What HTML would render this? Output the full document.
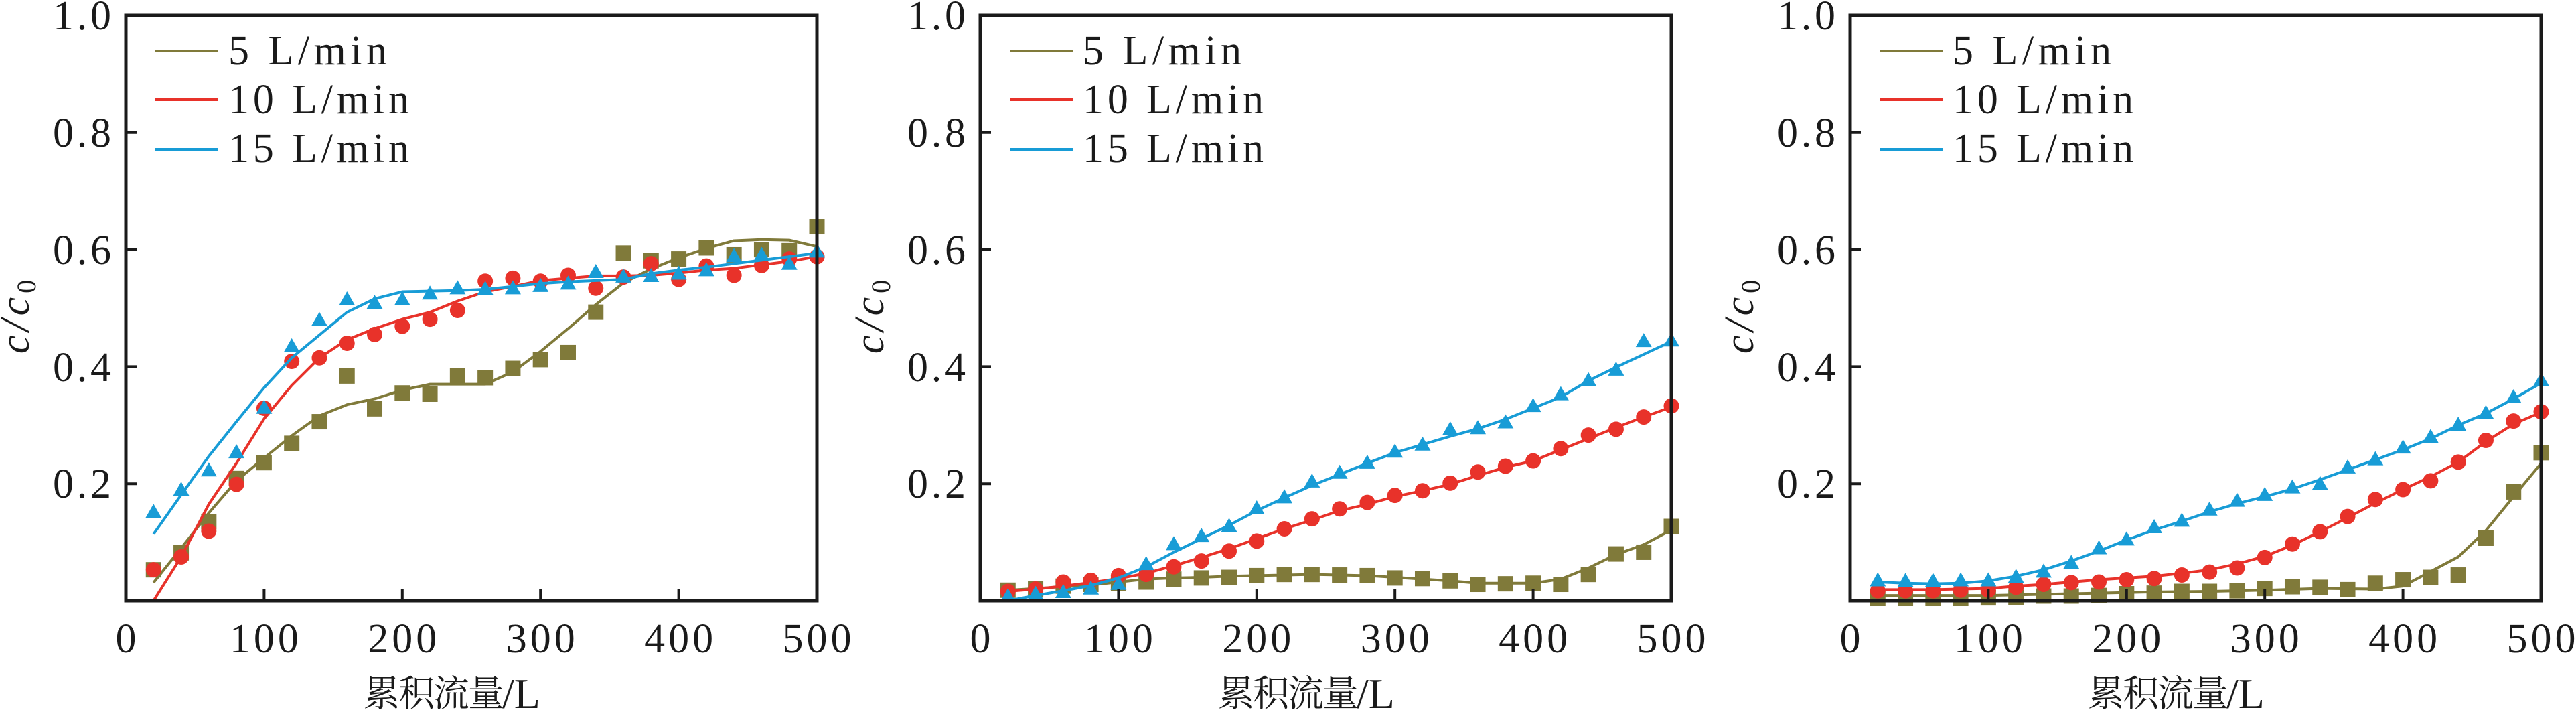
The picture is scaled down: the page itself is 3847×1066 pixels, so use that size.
<!DOCTYPE html>
<html>
<head>
<meta charset="utf-8">
<style>
html,body{margin:0;padding:0;background:#fff;}
svg{display:block;}
text{font-family:"Liberation Serif","Noto Serif CJK SC",serif;fill:#1a1a1a;}
</style>
</head>
<body>
<svg width="3847" height="1066" viewBox="0 0 3847 1066" xmlns="http://www.w3.org/2000/svg">
<defs>
<rect id="sq" x="-5.572" y="-0.013158" width="11.143" height="0.026316"/>
<ellipse id="ci" rx="5.572" ry="0.013158"/>
<path id="tr" d="M-5.814,-0.011442L5.814,-0.011442L0,0.012586Z"/>
</defs>
<rect x="0" y="0" width="3847" height="1066" fill="#fff"/>

<!-- ============ PANEL 1 ============ -->
<g transform="translate(188,897) scale(2.064,-874)">
<g fill="#807a3a">
<use href="#sq" x="20" y=".053"/><use href="#sq" x="40" y=".082"/><use href="#sq" x="60" y=".135"/><use href="#sq" x="80" y=".209"/><use href="#sq" x="100" y=".236"/><use href="#sq" x="120" y=".269"/><use href="#sq" x="140" y=".306"/><use href="#sq" x="160" y=".384"/><use href="#sq" x="180" y=".328"/><use href="#sq" x="200" y=".355"/><use href="#sq" x="220" y=".353"/><use href="#sq" x="240" y=".384"/><use href="#sq" x="260" y=".381"/><use href="#sq" x="280" y=".397"/><use href="#sq" x="300" y=".412"/><use href="#sq" x="320" y=".424"/><use href="#sq" x="340" y=".493"/><use href="#sq" x="360" y=".594"/><use href="#sq" x="380" y=".581"/><use href="#sq" x="400" y=".584"/><use href="#sq" x="420" y=".603"/><use href="#sq" x="440" y=".591"/><use href="#sq" x="460" y=".600"/><use href="#sq" x="480" y=".598"/><use href="#sq" x="500" y=".639"/>
</g>
<polyline fill="none" stroke="#807a3a" stroke-width="4" vector-effect="non-scaling-stroke" stroke-linejoin="round" points="20,.031 40,.09 60,.15 80,.205 100,.244 120,.282 140,.316 160,.335 180,.345 200,.36 220,.37 240,.37 260,.37 280,.391 300,.426 320,.465 340,.506 360,.543 380,.567 400,.586 420,.602 440,.615 460,.617 480,.616 500,.605"/>
<g fill="#e8322a">
<use href="#ci" x="20" y=".053"/><use href="#ci" x="40" y=".075"/><use href="#ci" x="60" y=".119"/><use href="#ci" x="80" y=".199"/><use href="#ci" x="100" y=".329"/><use href="#ci" x="120" y=".409"/><use href="#ci" x="140" y=".415"/><use href="#ci" x="160" y=".440"/><use href="#ci" x="180" y=".455"/><use href="#ci" x="200" y=".469"/><use href="#ci" x="220" y=".481"/><use href="#ci" x="240" y=".496"/><use href="#ci" x="260" y=".546"/><use href="#ci" x="280" y=".551"/><use href="#ci" x="300" y=".546"/><use href="#ci" x="320" y=".556"/><use href="#ci" x="340" y=".534"/><use href="#ci" x="360" y=".553"/><use href="#ci" x="380" y=".576"/><use href="#ci" x="400" y=".549"/><use href="#ci" x="420" y=".572"/><use href="#ci" x="440" y=".556"/><use href="#ci" x="460" y=".573"/><use href="#ci" x="480" y=".584"/><use href="#ci" x="500" y=".588"/>
</g>
<polyline fill="none" stroke="#e8322a" stroke-width="4" vector-effect="non-scaling-stroke" stroke-linejoin="round" points="20,0 40,.075 60,.165 80,.235 100,.311 120,.368 140,.415 160,.446 180,.465 200,.481 220,.493 240,.512 260,.528 280,.537 300,.547 320,.551 340,.555 360,.555 380,.556 400,.56 420,.565 440,.568 460,.574 480,.58 500,.588"/>
<g fill="#189cd6">
<use href="#tr" x="20" y=".153"/><use href="#tr" x="40" y=".191"/><use href="#tr" x="60" y=".224"/><use href="#tr" x="80" y=".255"/><use href="#tr" x="100" y=".331"/><use href="#tr" x="120" y=".436"/><use href="#tr" x="140" y=".481"/><use href="#tr" x="160" y=".516"/><use href="#tr" x="180" y=".510"/><use href="#tr" x="200" y=".516"/><use href="#tr" x="220" y=".526"/><use href="#tr" x="240" y=".535"/><use href="#tr" x="260" y=".534"/><use href="#tr" x="280" y=".535"/><use href="#tr" x="300" y=".539"/><use href="#tr" x="320" y=".543"/><use href="#tr" x="340" y=".563"/><use href="#tr" x="360" y=".555"/><use href="#tr" x="380" y=".556"/><use href="#tr" x="400" y=".560"/><use href="#tr" x="420" y=".566"/><use href="#tr" x="440" y=".590"/><use href="#tr" x="460" y=".592"/><use href="#tr" x="480" y=".577"/><use href="#tr" x="500" y=".598"/>
</g>
<polyline fill="none" stroke="#189cd6" stroke-width="4" vector-effect="non-scaling-stroke" stroke-linejoin="round" points="20,.114 40,.181 60,.247 80,.306 100,.364 120,.415 140,.454 160,.493 180,.516 200,.528 220,.529 240,.53 260,.532 280,.537 300,.542 320,.545 340,.547 360,.549 380,.559 400,.565 420,.57 440,.576 460,.582 480,.588 500,.594"/>
</g>

<!-- ============ PANEL 2 ============ -->
<g transform="translate(1464,897) scale(2.064,-874)">
<g fill="#807a3a">
<use href="#sq" x="20" y=".018"/><use href="#sq" x="40" y=".020"/><use href="#sq" x="60" y=".025"/><use href="#sq" x="80" y=".028"/><use href="#sq" x="100" y=".030"/><use href="#sq" x="120" y=".032"/><use href="#sq" x="140" y=".037"/><use href="#sq" x="160" y=".039"/><use href="#sq" x="180" y=".040"/><use href="#sq" x="200" y=".043"/><use href="#sq" x="220" y=".045"/><use href="#sq" x="240" y=".045"/><use href="#sq" x="260" y=".044"/><use href="#sq" x="280" y=".043"/><use href="#sq" x="300" y=".039"/><use href="#sq" x="320" y=".038"/><use href="#sq" x="340" y=".034"/><use href="#sq" x="360" y=".028"/><use href="#sq" x="380" y=".029"/><use href="#sq" x="400" y=".030"/><use href="#sq" x="420" y=".028"/><use href="#sq" x="440" y=".045"/><use href="#sq" x="460" y=".080"/><use href="#sq" x="480" y=".083"/><use href="#sq" x="500" y=".127"/>
</g>
<polyline fill="none" stroke="#807a3a" stroke-width="4" vector-effect="non-scaling-stroke" stroke-linejoin="round" points="20,.018 40,.021 60,.024 80,.027 100,.032 120,.037 140,.039 160,.040 180,.042 200,.043 220,.044 240,.045 260,.044 280,.043 300,.040 320,.037 340,.034 360,.030 380,.030 400,.030 420,.037 440,.056 460,.079 480,.096 500,.121"/>
<g fill="#e8322a">
<use href="#ci" x="20" y=".016"/><use href="#ci" x="40" y=".020"/><use href="#ci" x="60" y=".032"/><use href="#ci" x="80" y=".035"/><use href="#ci" x="100" y=".043"/><use href="#ci" x="120" y=".045"/><use href="#ci" x="140" y=".058"/><use href="#ci" x="160" y=".068"/><use href="#ci" x="180" y=".085"/><use href="#ci" x="200" y=".102"/><use href="#ci" x="220" y=".123"/><use href="#ci" x="240" y=".140"/><use href="#ci" x="260" y=".157"/><use href="#ci" x="280" y=".168"/><use href="#ci" x="300" y=".180"/><use href="#ci" x="320" y=".188"/><use href="#ci" x="340" y=".201"/><use href="#ci" x="360" y=".220"/><use href="#ci" x="380" y=".230"/><use href="#ci" x="400" y=".239"/><use href="#ci" x="420" y=".260"/><use href="#ci" x="440" y=".283"/><use href="#ci" x="460" y=".293"/><use href="#ci" x="480" y=".314"/><use href="#ci" x="500" y=".333"/>
</g>
<polyline fill="none" stroke="#e8322a" stroke-width="4" vector-effect="non-scaling-stroke" stroke-linejoin="round" points="20,.016 40,.020 60,.025 80,.031 100,.038 120,.047 140,.060 160,.074 180,.089 200,.106 220,.123 240,.138 260,.154 280,.165 300,.178 320,.188 340,.199 360,.214 380,.228 400,.239 420,.258 440,.277 460,.296 480,.314 500,.331"/>
<g fill="#189cd6">
<use href="#tr" x="20" y=".009"/><use href="#tr" x="40" y=".013"/><use href="#tr" x="60" y=".016"/><use href="#tr" x="80" y=".022"/><use href="#tr" x="100" y=".030"/><use href="#tr" x="120" y=".064"/><use href="#tr" x="140" y=".098"/><use href="#tr" x="160" y=".112"/><use href="#tr" x="180" y=".129"/><use href="#tr" x="200" y=".159"/><use href="#tr" x="220" y=".178"/><use href="#tr" x="240" y=".205"/><use href="#tr" x="260" y=".220"/><use href="#tr" x="280" y=".237"/><use href="#tr" x="300" y=".256"/><use href="#tr" x="320" y=".268"/><use href="#tr" x="340" y=".294"/><use href="#tr" x="360" y=".296"/><use href="#tr" x="380" y=".306"/><use href="#tr" x="400" y=".334"/><use href="#tr" x="420" y=".354"/><use href="#tr" x="440" y=".378"/><use href="#tr" x="460" y=".396"/><use href="#tr" x="480" y=".445"/><use href="#tr" x="500" y=".446"/>
</g>
<polyline fill="none" stroke="#189cd6" stroke-width="4" vector-effect="non-scaling-stroke" stroke-linejoin="round" points="20,0 40,.009 60,.017 80,.026 100,.039 120,.058 140,.083 160,.106 180,.129 200,.154 220,.176 240,.197 260,.216 280,.235 300,.253 320,.267 340,.281 360,.294 380,.31 400,.329 420,.348 440,.376 460,.399 480,.421 500,.443"/>
</g>

<!-- ============ PANEL 3 ============ -->
<g transform="translate(2763,897) scale(2.064,-874)">
<g fill="#807a3a">
<use href="#sq" x="20" y=".004"/><use href="#sq" x="40" y=".004"/><use href="#sq" x="60" y=".004"/><use href="#sq" x="80" y=".004"/><use href="#sq" x="100" y=".005"/><use href="#sq" x="120" y=".006"/><use href="#sq" x="140" y=".008"/><use href="#sq" x="160" y=".008"/><use href="#sq" x="180" y=".009"/><use href="#sq" x="200" y=".012"/><use href="#sq" x="220" y=".013"/><use href="#sq" x="240" y=".016"/><use href="#sq" x="260" y=".016"/><use href="#sq" x="280" y=".017"/><use href="#sq" x="300" y=".021"/><use href="#sq" x="320" y=".024"/><use href="#sq" x="340" y=".023"/><use href="#sq" x="360" y=".019"/><use href="#sq" x="380" y=".030"/><use href="#sq" x="400" y=".036"/><use href="#sq" x="420" y=".040"/><use href="#sq" x="440" y=".044"/><use href="#sq" x="460" y=".107"/><use href="#sq" x="480" y=".186"/><use href="#sq" x="500" y=".253"/>
</g>
<polyline fill="none" stroke="#807a3a" stroke-width="4" vector-effect="non-scaling-stroke" stroke-linejoin="round" points="20,.009 60,.009 100,.009 140,.011 180,.013 220,.015 260,.016 300,.018 340,.021 380,.020 400,.025 420,.05 440,.075 460,.12 480,.178 500,.235"/>
<g fill="#e8322a">
<use href="#ci" x="20" y=".017"/><use href="#ci" x="40" y=".017"/><use href="#ci" x="60" y=".017"/><use href="#ci" x="80" y=".018"/><use href="#ci" x="100" y=".018"/><use href="#ci" x="120" y=".023"/><use href="#ci" x="140" y=".028"/><use href="#ci" x="160" y=".031"/><use href="#ci" x="180" y=".032"/><use href="#ci" x="200" y=".036"/><use href="#ci" x="220" y=".038"/><use href="#ci" x="240" y=".044"/><use href="#ci" x="260" y=".049"/><use href="#ci" x="280" y=".056"/><use href="#ci" x="300" y=".074"/><use href="#ci" x="320" y=".097"/><use href="#ci" x="340" y=".118"/><use href="#ci" x="360" y=".144"/><use href="#ci" x="380" y=".173"/><use href="#ci" x="400" y=".190"/><use href="#ci" x="420" y=".205"/><use href="#ci" x="440" y=".237"/><use href="#ci" x="460" y=".274"/><use href="#ci" x="480" y=".307"/><use href="#ci" x="500" y=".323"/>
</g>
<polyline fill="none" stroke="#e8322a" stroke-width="4" vector-effect="non-scaling-stroke" stroke-linejoin="round" points="20,.019 40,.019 60,.019 80,.020 100,.021 120,.025 140,.028 160,.032 180,.036 200,.039 220,.042 240,.047 260,.053 280,.063 300,.076 320,.095 340,.118 360,.142 380,.167 400,.19 420,.212 440,.237 460,.272 480,.302 500,.322"/>
<g fill="#189cd6">
<use href="#tr" x="20" y=".036"/><use href="#tr" x="40" y=".035"/><use href="#tr" x="60" y=".035"/><use href="#tr" x="80" y=".036"/><use href="#tr" x="100" y=".036"/><use href="#tr" x="120" y=".042"/><use href="#tr" x="140" y=".051"/><use href="#tr" x="160" y=".066"/><use href="#tr" x="180" y=".091"/><use href="#tr" x="200" y=".106"/><use href="#tr" x="220" y=".127"/><use href="#tr" x="240" y=".138"/><use href="#tr" x="260" y=".157"/><use href="#tr" x="280" y=".172"/><use href="#tr" x="300" y=".182"/><use href="#tr" x="320" y=".195"/><use href="#tr" x="340" y=".201"/><use href="#tr" x="360" y=".229"/><use href="#tr" x="380" y=".243"/><use href="#tr" x="400" y=".263"/><use href="#tr" x="420" y=".281"/><use href="#tr" x="440" y=".302"/><use href="#tr" x="460" y=".322"/><use href="#tr" x="480" y=".349"/><use href="#tr" x="500" y=".378"/>
</g>
<polyline fill="none" stroke="#189cd6" stroke-width="4" vector-effect="non-scaling-stroke" stroke-linejoin="round" points="20,.032 40,.030 60,.029 80,.030 100,.034 120,.042 140,.053 160,.068 180,.085 200,.104 220,.121 240,.136 260,.152 280,.166 300,.178 320,.191 340,.207 360,.224 380,.241 400,.258 420,.277 440,.300 460,.320 480,.345 500,.372"/>
</g>

<!-- ============ FRAMES, TICKS, LABELS ============ -->
<g fill="none" stroke="#1a1a1a" stroke-width="5">
<rect x="188" y="23" width="1032" height="874"/>
<rect x="1464" y="23" width="1032" height="874"/>
<rect x="2763" y="23" width="1032" height="874"/>
</g>
<g stroke="#1a1a1a" stroke-width="4">
<path d="M394.4 897V879M600.8 897V879M807.2 897V879M1013.6 897V879M188 722.2H204M188 547.4H204M188 372.6H204M188 197.8H204"/>
<path d="M1670.4 897V879M1876.8 897V879M2083.2 897V879M2289.6 897V879M1464 722.2H1480M1464 547.4H1480M1464 372.6H1480M1464 197.8H1480"/>
<path d="M2969.4 897V879M3175.8 897V879M3382.2 897V879M3588.6 897V879M2763 722.2H2779M2763 547.4H2779M2763 372.6H2779M2763 197.8H2779"/>
</g>

<!-- legend lines -->
<g stroke-width="4">
<path d="M232 76H326" stroke="#807a3a"/><path d="M232 149H326" stroke="#e8322a"/><path d="M232 223H326" stroke="#189cd6"/>
<path d="M1508 76H1602" stroke="#807a3a"/><path d="M1508 149H1602" stroke="#e8322a"/><path d="M1508 223H1602" stroke="#189cd6"/>
<path d="M2807 76H2901" stroke="#807a3a"/><path d="M2807 149H2901" stroke="#e8322a"/><path d="M2807 223H2901" stroke="#189cd6"/>
</g>

<!-- legend text -->
<g font-size="62">
<text x="341" y="96" textLength="237" lengthAdjust="spacing">5 L/min</text>
<text x="341" y="169" textLength="270" lengthAdjust="spacing">10 L/min</text>
<text x="341" y="242" textLength="270" lengthAdjust="spacing">15 L/min</text>
<text x="1617" y="96" textLength="237" lengthAdjust="spacing">5 L/min</text>
<text x="1617" y="169" textLength="270" lengthAdjust="spacing">10 L/min</text>
<text x="1617" y="242" textLength="270" lengthAdjust="spacing">15 L/min</text>
<text x="2916" y="96" textLength="237" lengthAdjust="spacing">5 L/min</text>
<text x="2916" y="169" textLength="270" lengthAdjust="spacing">10 L/min</text>
<text x="2916" y="242" textLength="270" lengthAdjust="spacing">15 L/min</text>
</g>

<!-- y tick labels -->
<g font-size="62">
<text x="79" y="44" textLength="87" lengthAdjust="spacing">1.0</text>
<text x="79" y="219" textLength="87" lengthAdjust="spacing">0.8</text>
<text x="79" y="394" textLength="87" lengthAdjust="spacing">0.6</text>
<text x="79" y="569" textLength="87" lengthAdjust="spacing">0.4</text>
<text x="79" y="743" textLength="87" lengthAdjust="spacing">0.2</text>
<text x="1355" y="44" textLength="87" lengthAdjust="spacing">1.0</text>
<text x="1355" y="219" textLength="87" lengthAdjust="spacing">0.8</text>
<text x="1355" y="394" textLength="87" lengthAdjust="spacing">0.6</text>
<text x="1355" y="569" textLength="87" lengthAdjust="spacing">0.4</text>
<text x="1355" y="743" textLength="87" lengthAdjust="spacing">0.2</text>
<text x="2654" y="44" textLength="87" lengthAdjust="spacing">1.0</text>
<text x="2654" y="219" textLength="87" lengthAdjust="spacing">0.8</text>
<text x="2654" y="394" textLength="87" lengthAdjust="spacing">0.6</text>
<text x="2654" y="569" textLength="87" lengthAdjust="spacing">0.4</text>
<text x="2654" y="743" textLength="87" lengthAdjust="spacing">0.2</text>
</g>

<!-- x tick labels -->
<g font-size="62" text-anchor="middle" letter-spacing="5">
<text x="190.5" y="974">0</text>
<text x="396.9" y="974">100</text>
<text x="603.3" y="974">200</text>
<text x="809.7" y="974">300</text>
<text x="1016.1" y="974">400</text>
<text x="1222.5" y="974">500</text>
<text x="1466.5" y="974">0</text>
<text x="1672.9" y="974">100</text>
<text x="1879.3" y="974">200</text>
<text x="2085.7" y="974">300</text>
<text x="2292.1" y="974">400</text>
<text x="2498.5" y="974">500</text>
<text x="2765.5" y="974">0</text>
<text x="2971.9" y="974">100</text>
<text x="3178.3" y="974">200</text>
<text x="3384.7" y="974">300</text>
<text x="3591.1" y="974">400</text>
<text x="3797.5" y="974">500</text>
</g>

<!-- y axis titles -->
<g font-size="62" font-style="italic" text-anchor="middle" letter-spacing="6">
<text transform="translate(43,470) rotate(-90)">c/c<tspan font-size="40" font-style="normal" dy="10">0</tspan></text>
<text transform="translate(1319,470) rotate(-90)">c/c<tspan font-size="40" font-style="normal" dy="10">0</tspan></text>
<text transform="translate(2618,470) rotate(-90)">c/c<tspan font-size="40" font-style="normal" dy="10">0</tspan></text>
</g>

<!-- x axis titles -->
<g>
<text x="543" y="1054" font-size="54" letter-spacing="-2" style='font-family:"Liberation Serif","Noto Serif CJK SC",serif'>累积流量</text>
<text x="750" y="1057" font-size="64">/L</text>
<text x="1819" y="1054" font-size="54" letter-spacing="-2" style='font-family:"Liberation Serif","Noto Serif CJK SC",serif'>累积流量</text>
<text x="2026" y="1057" font-size="64">/L</text>
<text x="3118" y="1054" font-size="54" letter-spacing="-2" style='font-family:"Liberation Serif","Noto Serif CJK SC",serif'>累积流量</text>
<text x="3325" y="1057" font-size="64">/L</text>
</g>
</svg>
</body>
</html>
